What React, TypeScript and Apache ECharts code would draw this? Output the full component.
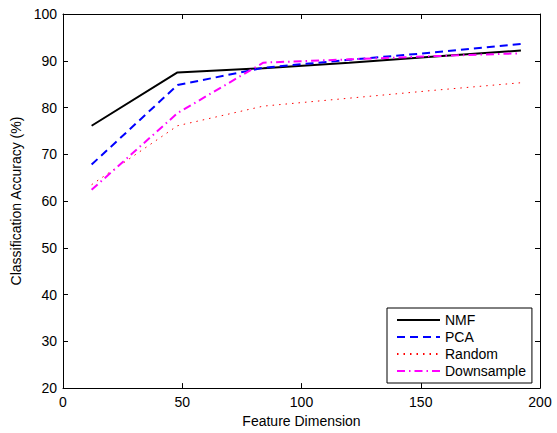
import React, { useEffect, useRef } from "react";
import * as echarts from "echarts";

const featureDims = [12, 48, 84, 120, 156, 192];
const nmf = [76.1, 87.5, 88.4, 89.6, 90.9, 92.2];
const pca = [67.8, 84.8, 88.5, 90.2, 91.8, 93.6];
const random = [63.5, 76.1, 80.3, 82.0, 83.7, 85.3];
const downsample = [62.4, 78.8, 89.6, 90.3, 91.0, 91.6];

const FONT = "Liberation Sans, Arial, Helvetica, sans-serif";

const pair = (ys: number[]) => featureDims.map((x, i) => [x, ys[i]]);

export default function App() {
  const ref = useRef<HTMLDivElement>(null);
  useEffect(() => {
    if (!ref.current) return;
    const chart = echarts.init(ref.current, null, { renderer: "svg" });
    const axisCommon = {
      axisLine: { show: true, onZero: false, lineStyle: { color: "#000", width: 1 } },
      axisTick: { show: true, inside: true, length: 5, lineStyle: { color: "#000" } },
      splitLine: { show: false },
    };
    const mk = (name: string, ys: number[], color: string, width: number, type: any) => ({
      name,
      type: "line",
      data: pair(ys),
      showSymbol: false,
      symbol: "none",
      legendIcon: "none",
      xAxisIndex: 0,
      yAxisIndex: 0,
      lineStyle: { color, width, type },
      itemStyle: { color },
    });
    chart.setOption({
      animation: false,
      backgroundColor: "#fff",
      textStyle: { fontFamily: FONT },
      grid: { left: 63, right: 17, top: 14, bottom: 41, containLabel: false },
      xAxis: [
        {
          type: "value",
          min: 0,
          max: 200,
          interval: 50,
          position: "bottom",
          name: "Feature Dimension",
          nameLocation: "middle",
          nameGap: 23,
          nameTextStyle: { color: "#000", fontSize: 14, fontFamily: FONT },
          axisLabel: { color: "#000", fontSize: 14, fontFamily: FONT, margin: 7 },
          ...axisCommon,
        },
        {
          type: "value",
          min: 0,
          max: 200,
          interval: 50,
          position: "top",
          axisLabel: { show: false },
          ...axisCommon,
        },
      ],
      yAxis: [
        {
          type: "value",
          min: 20,
          max: 100,
          interval: 10,
          position: "left",
          name: "Classification Accuracy (%)",
          nameLocation: "middle",
          nameGap: 38,
          nameTextStyle: { color: "#000", fontSize: 14, fontFamily: FONT },
          axisLabel: { color: "#000", fontSize: 14, fontFamily: FONT, margin: 6 },
          ...axisCommon,
        },
        {
          type: "value",
          min: 20,
          max: 100,
          interval: 10,
          position: "right",
          axisLabel: { show: false },
          ...axisCommon,
        },
      ],
      legend: {
        orient: "vertical",
        left: 387,
        top: 308,
        itemWidth: 43,
        itemHeight: 14,
        itemGap: 3,
        padding: [5, 6, 5, 9],
        borderColor: "#000",
        borderWidth: 1,
        backgroundColor: "#fff",
        itemStyle: { opacity: 0 },
        textStyle: { color: "#000", fontSize: 14, fontFamily: FONT },
        data: ["NMF", "PCA", "Random", "Downsample"],
      },
      series: [
        mk("NMF", nmf, "#000000", 2, "solid"),
        mk("PCA", pca, "#0000ff", 2, [8, 5]),
        mk("Random", random, "#ff0000", 1, [1.5, 5]),
        mk("Downsample", downsample, "#ff00ff", 2, [8, 4, 1.5, 4]),
      ],
    });
    return () => chart.dispose();
  }, []);
  return (
    <div
      ref={ref}
      style={{ position: "absolute", left: 0, top: 0, width: 557, height: 433 }}
    />
  );
}
